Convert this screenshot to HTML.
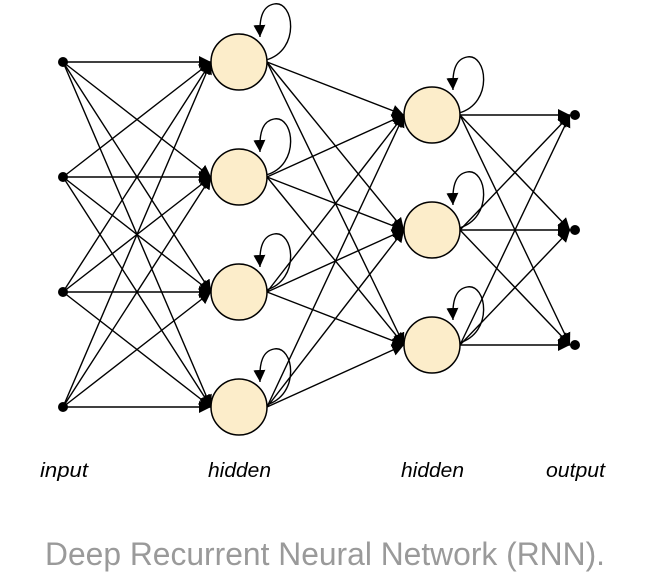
<!DOCTYPE html>
<html><head><meta charset="utf-8"><style>
html,body{margin:0;padding:0;background:#fff;width:648px;height:586px;overflow:hidden}
</style></head><body>
<svg id="s" width="648" height="586" xmlns="http://www.w3.org/2000/svg">
<defs><marker id="a" viewBox="0 0 10 10" refX="10" refY="5" markerWidth="12" markerHeight="12" markerUnits="userSpaceOnUse" orient="auto"><path d="M0,0 L10,5 L0,10 z" fill="#000"/></marker></defs>
<g id="e" stroke="#000" stroke-width="1.4" fill="none"></g>
<g id="n"></g>
<g font-family="Liberation Sans, sans-serif" font-style="italic" font-size="20" fill="#000">
<text x="40" y="477" textLength="48" lengthAdjust="spacingAndGlyphs">input</text>
<text x="208" y="477" textLength="63" lengthAdjust="spacingAndGlyphs">hidden</text>
<text x="401" y="477" textLength="63" lengthAdjust="spacingAndGlyphs">hidden</text>
<text x="546" y="477" textLength="59" lengthAdjust="spacingAndGlyphs">output</text>
</g>
<text x="45" y="565" font-family="Liberation Sans, sans-serif" font-size="32" fill="#9a9a9a" textLength="560" lengthAdjust="spacingAndGlyphs">Deep Recurrent Neural Network (RNN).</text>
</svg>
<script>
var NS="http://www.w3.org/2000/svg",e=document.getElementById('e'),n=document.getElementById('n');
function el(p,t,a){var x=document.createElementNS(NS,t);for(var k in a)x.setAttribute(k,a[k]);p.appendChild(x);return x;}
var inY=[62,177,292,407],h1Y=[62,177,292,407],h2Y=[115,230,345],outY=[115,230,345],R=28;
function line(x1,y1,x2,y2){el(e,'line',{x1:x1,y1:y1,x2:x2,y2:y2,'marker-end':'url(#a)'});}
inY.forEach(function(a){h1Y.forEach(function(b){line(63,a,211,b);});});
h1Y.forEach(function(a){h2Y.forEach(function(b){line(267,a,404,b);});});
h2Y.forEach(function(a){outY.forEach(function(b){line(460,a,570,b);});});
function loop(cx,cy){el(e,'path',{d:'M'+(cx+27)+','+(cy-2)+' C'+(cx+62)+','+(cy-12)+' '+(cx+55)+','+(cy-62)+' '+(cx+35)+','+(cy-58)+' C'+(cx+24)+','+(cy-56)+' '+(cx+20)+','+(cy-45)+' '+(cx+21)+','+(cy-25),'marker-end':'url(#a)'});}
h1Y.forEach(function(y){loop(239,y);});
h2Y.forEach(function(y){loop(432,y);});
h1Y.forEach(function(y){el(n,'circle',{cx:239,cy:y,r:R,fill:'#fcedca',stroke:'#000','stroke-width':1.5});});
h2Y.forEach(function(y){el(n,'circle',{cx:432,cy:y,r:R,fill:'#fcedca',stroke:'#000','stroke-width':1.5});});
inY.forEach(function(y){el(n,'circle',{cx:63,cy:y,r:5,fill:'#000'});});
outY.forEach(function(y){el(n,'circle',{cx:575,cy:y,r:5,fill:'#000'});});
</script>
</body></html>
